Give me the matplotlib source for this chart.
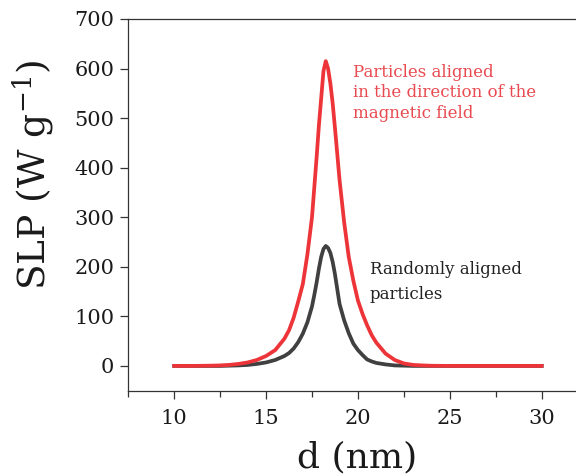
import matplotlib
matplotlib.use("Agg")
import matplotlib.pyplot as plt
from matplotlib.ticker import MultipleLocator

plt.rcParams['font.family'] = ['DejaVu Serif']
plt.rcParams['mathtext.fontset'] = 'dejavuserif'

# ── DATA ─────────────────────────────────────────────────────────────────────
# particle diameter d (nm)
d_nm = [10, 11, 12, 12.5, 13, 13.5, 14, 14.5, 15, 15.5, 16, 16.25, 16.5, 16.75,
        17, 17.25, 17.5, 17.625, 17.75, 17.875, 18, 18.125, 18.25, 18.375,
        18.5, 18.625, 18.75, 18.875, 19, 19.25, 19.5, 19.75, 20, 20.25, 20.5,
        20.75, 21, 21.5, 22, 22.5, 23, 23.5, 24, 25, 26, 27, 28, 29, 30]

# SLP (W/g), particles aligned along the field
slp_aligned = [0, 0, 0.5, 1, 2, 4, 7, 12, 20, 32, 55, 72, 97, 130,
               165, 225, 300, 360, 420, 485, 540, 595, 615, 600,
               570, 530, 480, 428, 375, 290, 220, 172, 132, 105, 82,
               62, 47, 25, 12, 5, 2, 1, 0.3, 0, 0, 0, 0, 0, 0]

# SLP (W/g), randomly aligned particles
slp_random = [0, 0, 0, 0, 0.5, 1, 2, 4, 7, 12, 20, 26, 35, 48,
              65, 88, 120, 143, 168, 196, 220, 236, 242, 238,
              228, 210, 185, 155, 125, 92, 66, 45, 32, 22, 13,
              9, 6, 3, 1, 0.5, 0, 0, 0, 0, 0, 0, 0, 0, 0]

RED = '#EC3439'
DARK = '#404040'

fig = plt.figure(figsize=(5.76, 4.75), dpi=100)
# axes runs a little past the right edge, as in the source figure
ax = fig.add_axes([0.2227, 0.1775, 0.7974, 0.7825])

ax.plot(d_nm, slp_random, color=DARK, lw=2.7, solid_joinstyle='round', zorder=3)
ax.plot(d_nm, slp_aligned, color=RED, lw=2.7, solid_joinstyle='round', zorder=4)

ax.set_xlim(7.5, 32.5)
ax.set_ylim(-50, 700)
ax.xaxis.set_major_locator(MultipleLocator(5))
ax.xaxis.set_minor_locator(MultipleLocator(2.5))
ax.yaxis.set_major_locator(MultipleLocator(100))

for s in ax.spines.values():
    s.set_linewidth(0.9)
    s.set_color('#333333')
ax.spines['right'].set_visible(False)

ax.tick_params(axis='both', which='major', direction='out', length=6,
               width=0.9, colors='#333333', labelcolor='#1a1a1a', labelsize=15)
ax.tick_params(axis='x', which='major', pad=7)
ax.tick_params(axis='y', which='major', pad=4)
ax.tick_params(axis='x', which='minor', direction='out', length=4, width=0.9,
               colors='#333333')

ax.set_xlabel('d (nm)', fontsize=26, color='#1a1a1a')
ax.xaxis.set_label_coords(0.499, -0.18)
ax.set_ylabel(r'SLP (W g$^{\mathregular{-1}}$)', fontsize=27, color='#1a1a1a')
ax.yaxis.set_label_coords(-0.2075, 0.58)
ax.xaxis.label.set_va('center')
ax.yaxis.label.set_va('center')

ax.text(19.73, 609, 'Particles aligned\nin the direction of the\nmagnetic field',
        color='#E84A50', fontsize=12, va='top', ha='left', linespacing=1.25)
ax.text(20.65, 211, 'Randomly aligned\nparticles',
        color='#222222', fontsize=12, va='top', ha='left', linespacing=1.6)

fig.savefig('out.png', dpi=100, facecolor='white')
